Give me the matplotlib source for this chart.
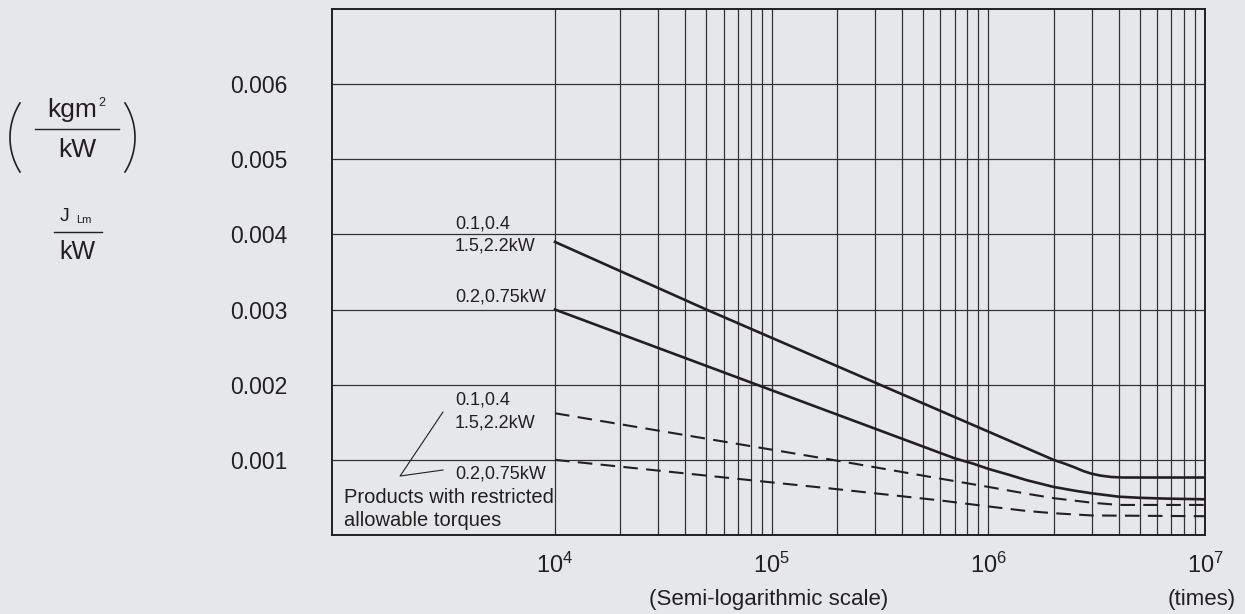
import numpy as np
import matplotlib
matplotlib.use("Agg")
import matplotlib.pyplot as plt
from matplotlib.lines import Line2D

plt.rcParams['font.family'] = ['Liberation Sans', 'DejaVu Sans']
plt.rcParams['mathtext.fontset'] = 'custom'
plt.rcParams['mathtext.rm'] = 'Liberation Sans'
plt.rcParams['mathtext.it'] = 'Liberation Sans'

# data (x = times, y = kgm2/kW)
solid_a_x = [1e4, 5e4, 2e6, 2.25e6, 2.5e6, 2.75e6, 3e6, 3.3e6, 3.7e6, 4.2e6, 1e7]
solid_a_y = [0.0039, 0.0030, 0.00100, 0.00095, 0.00090, 0.00085, 0.000815, 0.00079, 0.000772, 0.000765, 0.000765]

solid_b_x = [1e4, 7e5, 8.5e5, 1e6, 1.25e6, 1.5e6, 2e6, 2.5e6, 3e6, 4e6, 5e6, 6.5e6, 1e7]
solid_b_y = [0.0030, 0.00102, 0.00095, 0.00088, 0.00080, 0.00073, 0.00064, 0.00059, 0.000555, 0.00051, 0.000495, 0.000485, 0.000475]

dash_a_x = [1e4, 2e5, 6e5, 1e6, 1.5e6, 2e6, 3e6, 4e6, 1e7]
dash_a_y = [0.00162, 0.00099, 0.00075, 0.00064, 0.00055, 0.00049, 0.00043, 0.00040, 0.00040]

dash_b_x = [1e4, 2e5, 6e5, 1e6, 1.5e6, 2e6, 3e6, 1e7]
dash_b_y = [0.00100, 0.00061, 0.00046, 0.00038, 0.00032, 0.00029, 0.00026, 0.00025]

yticks = [0.001, 0.002, 0.003, 0.004, 0.005, 0.006]
ytick_labels = ['0.001', '0.002', '0.003', '0.004', '0.005', '0.006']
xticks = [1e4, 1e5, 1e6, 1e7]
xtick_labels = [r'$\mathregular{10^{4}}$', r'$\mathregular{10^{5}}$',
                r'$\mathregular{10^{6}}$', r'$\mathregular{10^{7}}$']

bg = '#e6e7e8'
ink = '#231f20'
W, H = 1245, 614

def px(x, y):
    # pixel (from top-left) -> figure fraction
    return x / W, 1 - y / H

fig = plt.figure(figsize=(W / 100, H / 100), dpi=100, facecolor=bg)
ax = fig.add_axes([332 / W, (H - 535) / H, (1205 - 332) / W, (535 - 9) / H])
ax.set_facecolor(bg)

ax.set_xscale('log')
ax.set_xlim(10 ** (4 - 223 / 216.67), 1e7)
ax.set_ylim(0, 0.007)

ax.set_xticks(xticks)
ax.set_xticklabels(xtick_labels, fontsize=17, color=ink)
ax.set_xticks([k * 10 ** n for n in (4, 5, 6) for k in range(2, 10)], minor=True)
ax.set_xticklabels([], minor=True)
ax.set_yticks(yticks)
ax.set_yticklabels(ytick_labels, fontsize=16.5, color=ink)
ax.tick_params(axis='both', which='both', length=0)
ax.tick_params(axis='y', pad=32)
ax.tick_params(axis='x', pad=13)
ax.grid(True, which='both', axis='x', color='#333333', lw=0.9)
ax.grid(True, which='major', axis='y', color='#333333', lw=0.9)
for s in ax.spines.values():
    s.set_linewidth(1.4)
    s.set_color(ink)

ax.plot(solid_a_x, solid_a_y, color=ink, lw=1.9, solid_joinstyle='round')
ax.plot(solid_b_x, solid_b_y, color=ink, lw=1.9, solid_joinstyle='round')
ax.plot(dash_a_x, dash_a_y, color=ink, lw=1.5, dashes=(7, 4))
ax.plot(dash_b_x, dash_b_y, color=ink, lw=1.5, dashes=(7, 4))

# curve labels
lab = dict(fontsize=13, color=ink, ha='left', va='center')
ax.text(3450, 0.00414, '0.1,0.4', **lab)
ax.text(3450, 0.00385, '1.5,2.2kW', **lab)
ax.text(3450, 0.00317, '0.2,0.75kW', **lab)
ax.text(3450, 0.00179, '0.1,0.4', **lab)
ax.text(3450, 0.00149, '1.5,2.2kW', **lab)
ax.text(3450, 0.00081, '0.2,0.75kW', **lab)
ax.text(1062, 0.000496, 'Products with restricted', fontsize=14.5, color=ink, ha='left', va='center')
ax.text(1062, 0.00019, 'allowable torques', fontsize=14.5, color=ink, ha='left', va='center')
ax.plot([3041, 1928, 3041], [0.001637, 0.000785, 0.000865], color=ink, lw=0.8)

# axis captions
fig.text(*px(769, 600), '(Semi-logarithmic scale)', fontsize=16, color=ink, ha='center', va='center')
fig.text(*px(1202, 600), '(times)', fontsize=16, color=ink, ha='center', va='center')

# unit block on the left
fig.text(*px(72, 110), 'kgm', fontsize=19, color=ink, ha='center', va='center')
fig.text(*px(102, 103), '2', fontsize=9, color=ink, ha='center', va='center')
fig.add_artist(Line2D([35 / W, 119 / W], [1 - 129 / H, 1 - 129 / H], color=ink, lw=1.0))
fig.text(*px(77, 150), 'kW', fontsize=19, color=ink, ha='center', va='center')

th = np.linspace(-np.arcsin(34.5 / 64.5), np.arcsin(34.5 / 64.5), 40)
lx = 74.5 - 64.5 * np.cos(th)
rx = 70.5 + 64.5 * np.cos(th)
ay = 137.5 + 64.5 * np.sin(th)
fig.add_artist(Line2D(lx / W, 1 - ay / H, color=ink, lw=1.2))
fig.add_artist(Line2D(rx / W, 1 - ay / H, color=ink, lw=1.2))

fig.text(*px(65, 217), 'J', fontsize=14, color=ink, ha='center', va='center')
fig.text(*px(84, 220), 'Lm', fontsize=8, color=ink, ha='center', va='center')
fig.add_artist(Line2D([54 / W, 102 / W], [1 - 232 / H, 1 - 232 / H], color=ink, lw=1.0))
fig.text(*px(77, 252), 'kW', fontsize=18, color=ink, ha='center', va='center')

fig.savefig('out.png', dpi=100, facecolor=bg)
